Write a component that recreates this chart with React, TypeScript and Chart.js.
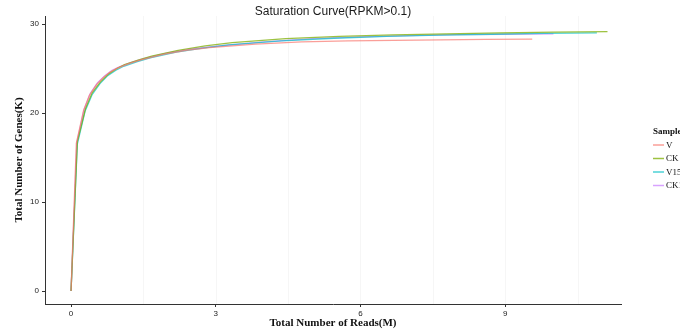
import React, { useEffect, useRef } from "react";
import { Chart, registerables } from "chart.js";

Chart.register(...registerables);

const seriesNames = ["V", "CK", "V15", "CK1"];
const seriesColors = [
  "rgba(248,118,109,0.7)",
  "rgba(124,174,0,0.75)",
  "rgba(0,191,196,0.7)",
  "rgba(199,124,255,0.7)",
];

const readsV = [0, 0.11, 0.26, 0.38, 0.53, 0.67, 0.81, 0.96, 1.2, 1.43, 1.91, 2.39, 2.87, 3.82, 4.78, 5.74, 6.69, 7.65, 8.6, 9.56];
const genesV = [0, 16.6, 20.3, 22.0, 23.2, 24.0, 24.6, 25.05, 25.55, 25.95, 26.6, 27.05, 27.35, 27.75, 28.0, 28.1, 28.17, 28.22, 28.27, 28.3];

const readsCK = [0, 0.13, 0.3, 0.44, 0.61, 0.78, 0.95, 1.11, 1.39, 1.67, 2.22, 2.78, 3.34, 4.45, 5.56, 6.67, 7.78, 8.9, 10.0, 11.12];
const genesCK = [0, 16.8, 20.5, 22.3, 23.5, 24.4, 25.0, 25.45, 25.95, 26.4, 27.05, 27.55, 27.9, 28.35, 28.6, 28.78, 28.9, 29.0, 29.08, 29.15];

const readsV15 = [0, 0.13, 0.29, 0.44, 0.6, 0.76, 0.93, 1.09, 1.36, 1.64, 2.18, 2.73, 3.27, 4.36, 5.45, 6.54, 7.63, 8.72, 9.81, 10.9];
const genesV15 = [0, 16.5, 20.2, 22.1, 23.3, 24.2, 24.8, 25.25, 25.75, 26.2, 26.85, 27.3, 27.65, 28.1, 28.4, 28.6, 28.75, 28.85, 28.95, 29.0];

const readsCK1 = [0, 0.12, 0.27, 0.4, 0.55, 0.7, 0.85, 1.0, 1.25, 1.5, 2.0, 2.5, 3.0, 4.0, 5.0, 6.0, 7.0, 8.0, 9.0, 10.0];
const genesCK1 = [0, 16.7, 20.4, 22.2, 23.4, 24.2, 24.8, 25.2, 25.7, 26.1, 26.75, 27.2, 27.5, 28.0, 28.35, 28.55, 28.7, 28.8, 28.85, 28.9];

const xTicks = [0, 3, 6, 9];
const yTicks = [0, 10, 20, 30];
const xGridLines = [1.5, 3, 4.5, 6, 7.5, 9, 10.5];

const titleText = "Saturation Curve(RPKM>0.1)";
const xTitle = "Total Number of Reads(M)";
const yTitle = "Total Number of Genes(K)";
const legendTitle = "Sample";

const allReads = [readsV, readsCK, readsV15, readsCK1];
const allGenes = [genesV, genesCK, genesV15, genesCK1];

const extrasPlugin = {
  id: "extras",
  beforeDatasetsDraw(chart: any) {
    const { ctx, chartArea, scales } = chart;
    ctx.save();
    ctx.strokeStyle = "#f6f6f6";
    ctx.lineWidth = 1;
    xGridLines.forEach((v) => {
      const x = Math.round(scales.x.getPixelForValue(v)) + 0.5;
      ctx.beginPath();
      ctx.moveTo(x, chartArea.top);
      ctx.lineTo(x, chartArea.bottom);
      ctx.stroke();
    });
    ctx.restore();
  },
  afterDraw(chart: any) {
    const { ctx, chartArea } = chart;
    ctx.save();
    ctx.fillStyle = "#1a1a1a";
    ctx.font = "12px 'Liberation Sans', Arial, sans-serif";
    ctx.textAlign = "center";
    ctx.textBaseline = "middle";
    ctx.fillText(titleText, (chartArea.left + chartArea.right) / 2, 11.5);
    const lx = 653;
    ctx.textAlign = "left";
    ctx.font = "bold 9px 'Liberation Serif', 'Times New Roman', serif";
    ctx.fillStyle = "#111";
    ctx.fillText(legendTitle, lx, 132);
    ctx.font = "9px 'Liberation Serif', 'Times New Roman', serif";
    seriesNames.forEach((name, i) => {
      const y = 145 + i * 13.5;
      ctx.strokeStyle = seriesColors[i];
      ctx.lineWidth = 1.5;
      ctx.beginPath();
      ctx.moveTo(lx, y);
      ctx.lineTo(lx + 11, y);
      ctx.stroke();
      ctx.fillStyle = "#111";
      ctx.fillText(name, lx + 13, y + 0.5);
    });
    ctx.restore();
  },
};

export default function App() {
  const canvasRef = useRef<HTMLCanvasElement | null>(null);

  useEffect(() => {
    if (!canvasRef.current) return;
    const datasets = seriesNames.map((name, i) => ({
      label: name,
      data: allReads[i].map((x, j) => ({ x, y: allGenes[i][j] })),
      borderColor: seriesColors[i],
      backgroundColor: seriesColors[i],
      borderWidth: 1.3,
      pointRadius: 0,
      showLine: true,
      fill: false,
      tension: 0,
    }));

    const chart = new Chart(canvasRef.current, {
      type: "scatter",
      data: { datasets },
      options: {
        animation: false,
        responsive: false,
        maintainAspectRatio: false,
        layout: { padding: { top: 16, right: 59, left: 0, bottom: 0 } },
        plugins: {
          legend: { display: false },
          title: { display: false },
          tooltip: { enabled: false },
        },
        scales: {
          x: {
            type: "linear",
            min: -0.54,
            max: 11.4,
            afterBuildTicks: (scale: any) => {
              scale.ticks = xTicks.map((v) => ({ value: v }));
            },
            afterFit: (scale: any) => {
              scale.height = 29;
            },
            grid: {
              display: true,
              drawOnChartArea: false,
              drawTicks: true,
              tickLength: 3,
              tickColor: "#333",
              tickWidth: 1,
            },
            border: { display: true, color: "#333", width: 1 },
            ticks: {
              color: "#222",
              padding: 2,
              font: { size: 8, family: "'Liberation Sans', Arial, sans-serif" },
              maxRotation: 0,
            },
            title: {
              display: true,
              text: xTitle,
              color: "#111",
              font: { size: 11, weight: "bold", family: "'Liberation Serif', 'Times New Roman', serif" },
              padding: { top: 0, bottom: 3 },
            },
          },
          y: {
            type: "linear",
            min: -1.46,
            max: 30.9,
            afterBuildTicks: (scale: any) => {
              scale.ticks = yTicks.map((v) => ({ value: v }));
            },
            afterFit: (scale: any) => {
              scale.width = 45;
            },
            grid: {
              display: true,
              drawOnChartArea: false,
              drawTicks: true,
              tickLength: 3,
              tickColor: "#333",
              tickWidth: 1,
            },
            border: { display: true, color: "#333", width: 1 },
            ticks: {
              color: "#222",
              padding: 3,
              font: { size: 8, family: "'Liberation Sans', Arial, sans-serif" },
            },
            title: {
              display: true,
              text: yTitle,
              color: "#111",
              font: { size: 11, weight: "bold", family: "'Liberation Serif', 'Times New Roman', serif" },
              padding: { top: 13, bottom: 0 },
            },
          },
        },
      },
      plugins: [extrasPlugin],
    });
    return () => chart.destroy();
  }, []);

  return (
    <div style={{ position: "absolute", left: 0, top: 0, width: 680, height: 333, background: "#fff" }}>
      <canvas ref={canvasRef} width={680} height={333} style={{ display: "block", width: 680, height: 333 }} />
    </div>
  );
}
